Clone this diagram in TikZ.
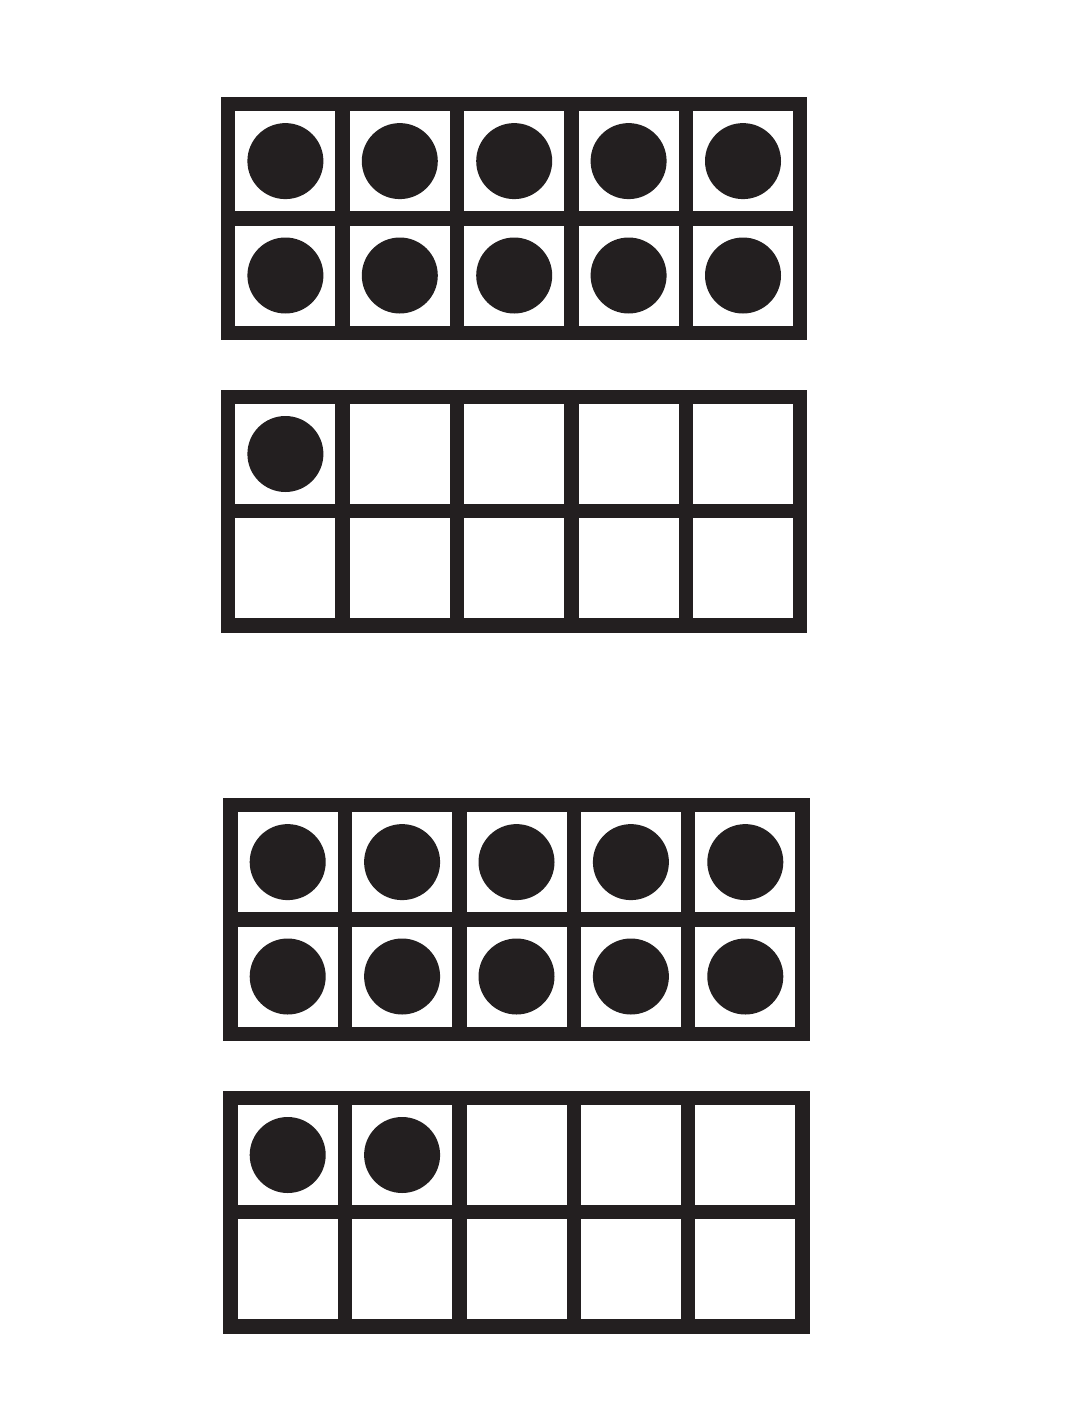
\documentclass[tikz,border=0pt]{standalone}
\usetikzlibrary{calc}
\definecolor{ink}{HTML}{231F20}
\tikzset{
  framebg/.style={fill=ink},
  cellbox/.style={fill=white},
  counter/.style={fill=ink}
}
\newcommand\mytenframe[3]{%
  \begin{scope}[shift={(#1,#2)}]
    \fill[framebg] (0,0) rectangle (586.4,243.2);
    \foreach \r in {0,1} {
      \foreach \c in {0,...,4} {
        \fill[cellbox] ({14.4+\c*114.4},{14.4+\r*114.4}) rectangle ++(100,100);
      }
    }
    \foreach \k in {1,...,#3} {
      \pgfmathtruncatemacro\rr{floor((\k-1)/5)}
      \pgfmathtruncatemacro\cc{mod(\k-1,5)}
      \fill[counter] ({64.4+\cc*114.4},{64.4+\rr*114.4}) circle[radius=38pt];
    }
  \end{scope}%
}
\begin{document}
\begin{tikzpicture}[x=1pt,y=-1pt]
  \useasboundingbox (0,0) rectangle (1088,1408);
  \fill[white] (0,0) rectangle (1088,1408);
  \mytenframe{221}{96.7}{10}
  \mytenframe{221}{389.6}{1}
  \mytenframe{223.3}{797.7}{10}
  \mytenframe{223.3}{1090.6}{2}
\end{tikzpicture}
\end{document}
